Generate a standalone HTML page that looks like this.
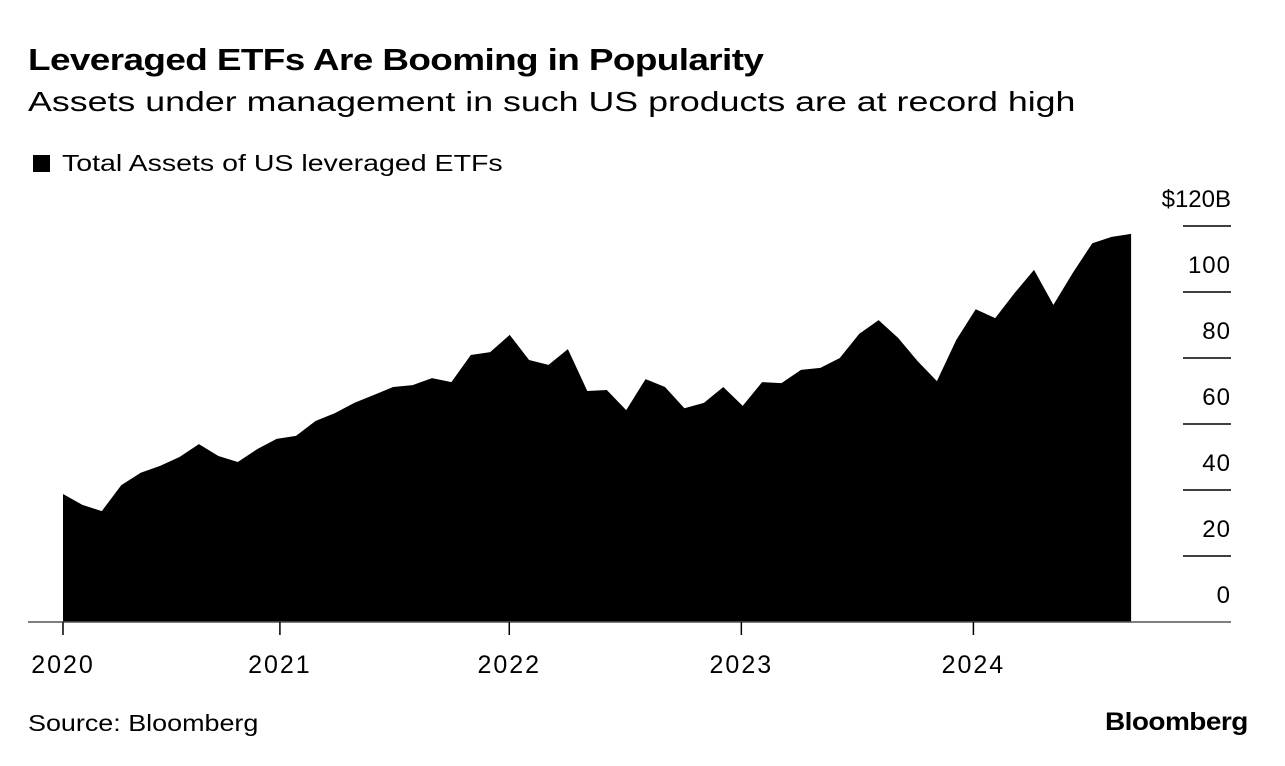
<!DOCTYPE html>
<html><head><meta charset="utf-8"><style>
body{margin:0;width:1285px;height:766px;background:#fff;font-family:"Liberation Sans",sans-serif;color:#000;overflow:hidden;position:relative}
.t{position:absolute;white-space:nowrap;transform-origin:0 0}
</style></head><body>
<div class="t" style="left:28px;top:42px;font-size:31px;font-weight:bold;letter-spacing:-0.5px;transform:scaleX(1.19)">Leveraged ETFs Are Booming in Popularity</div>
<div class="t" style="left:28px;top:86px;font-size:28px;transform:scaleX(1.277)">Assets under management in such US products are at record high</div>
<div class="t" style="left:33px;top:150px;font-size:23px"><span style="display:inline-block;width:17px;height:17px;background:#000;margin-right:12px;vertical-align:-1px"></span><span style="display:inline-block;transform:scaleX(1.24);transform-origin:0 0">Total Assets of US leveraged ETFs</span></div>
<svg id="chart" width="1285" height="766" style="position:absolute;left:0;top:0"></svg>
<div class="t" style="left:28px;top:710px;font-size:23px;transform:scaleX(1.17)">Source: Bloomberg</div>
<div class="t" style="left:1105px;top:708px;font-size:25px;font-weight:bold;letter-spacing:-0.5px;transform:scaleX(1.12)">Bloomberg</div>
<script>
const values=[38.8,35.5,33.6,41.5,45.2,47.3,50,53.9,50.3,48.5,52.4,55.5,56.4,60.9,63.3,66.4,68.8,71.2,71.8,73.9,72.7,80.9,81.8,87,79.4,77.9,82.7,70,70.3,64.2,73.6,71.2,64.8,66.4,71.2,65.5,72.7,72.4,76.4,77,80,87.3,91.5,86.1,79.1,73,85.5,94.8,92.1,99.7,106.7,96.1,105.8,114.8,116.7,117.6];
const yTicks=[0,20,40,60,80,100,120];
const yLabels=["0","20","40","60","80","100","$120B"];
const xTickLabels=["2020","2021","2022","2023","2024"];
const xTickPos=[0,11.17,22.98,34.93,46.88];
const NS="http://www.w3.org/2000/svg";
const svg=document.getElementById('chart');
const x0=63,dx=19.42,base=622,ppu=3.3;
const X=i=>x0+i*dx, Y=v=>base-v*ppu;
function mk(t,a){const e=document.createElementNS(NS,t);for(const k in a)e.setAttribute(k,a[k]);svg.appendChild(e);return e;}
let d=`M${X(0)},${Y(0)}`;
values.forEach((v,i)=>{d+=` L${X(i).toFixed(1)},${Y(v).toFixed(1)}`;});
d+=` L${X(values.length-1).toFixed(1)},${Y(0)} Z`;
const area=mk('path',{d:d,fill:'#000'});


yTicks.forEach((v,i)=>{
  if(v>0){const l=mk('line',{x1:1183,x2:1231,y1:Y(v),y2:Y(v),stroke:'#000','stroke-width':1.5});
  
  }
  const t=mk('text',{x:1231,y:Y(v)-19,'text-anchor':'end','font-size':24,'font-family':'Liberation Sans, sans-serif','letter-spacing':v===120?0:1});
  t.textContent=yLabels[i];
  
  
});
const ax=mk('line',{x1:28,x2:1231,y1:base,y2:base,stroke:'#555','stroke-width':1.5});


xTickLabels.forEach((s,i)=>{
  const x=X(xTickPos[i]);
  const l=mk('line',{x1:x,x2:x,y1:base,y2:base+13,stroke:'#000','stroke-width':1.5});
  
  
  const t=mk('text',{x:x,y:673,'text-anchor':'middle','font-size':25,'letter-spacing':2,'font-family':'Liberation Sans, sans-serif'});
  t.textContent=s;
  
  
});
</script>
</body></html>
